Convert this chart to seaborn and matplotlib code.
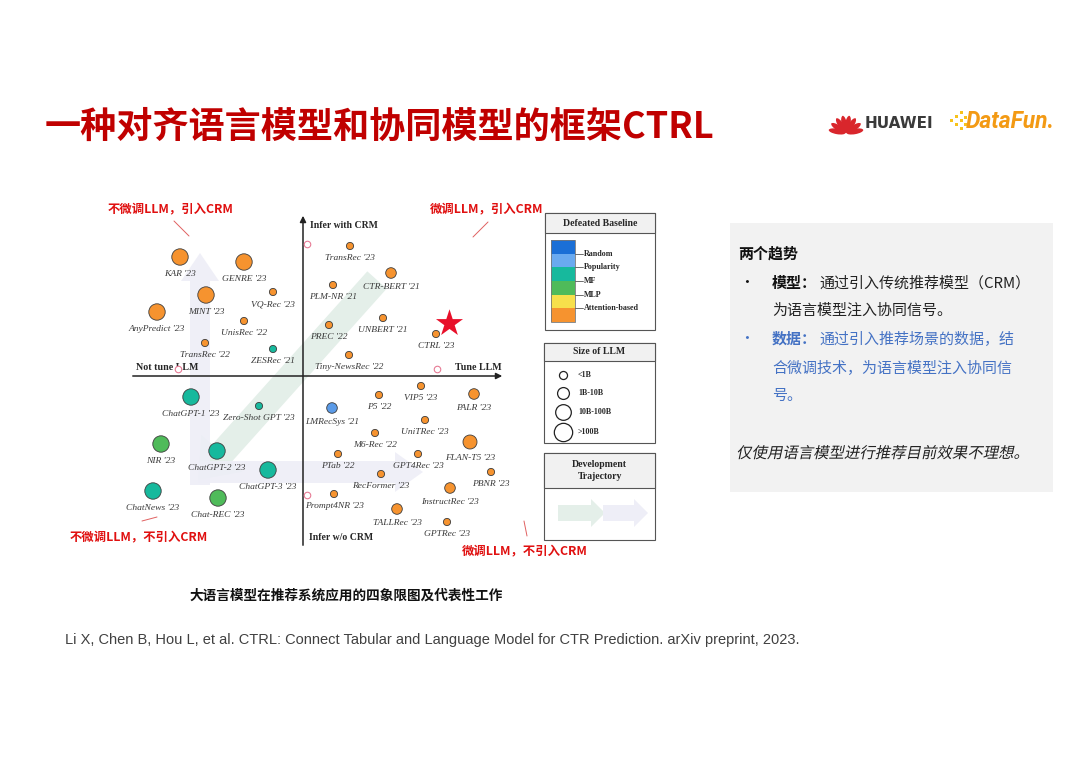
import numpy as np
import pandas as pd
import seaborn as sns
import matplotlib.pyplot as plt
from matplotlib.patches import Rectangle, FancyArrow, Ellipse, PathPatch
from matplotlib.textpath import TextPath
from matplotlib.font_manager import FontProperties
from matplotlib.transforms import Affine2D

# ---------------- 数据 ----------------
# 横轴: 是否微调 LLM (右=Tune LLM)；纵轴: 是否引入 CRM (上=Infer with CRM)
works = ["KAR '23", "GENRE '23", "VQ-Rec '23", "MINT '23", "AnyPredict '23", "UnisRec '22",
         "TransRec '22", "ZESRec '21",
         "TransRec '23", "CTR-BERT '21", "PLM-NR '21", "UNBERT '21", "PREC '22", "CTRL '23",
         "Tiny-NewsRec '22",
         "ChatGPT-1 '23", "Zero-Shot GPT '23", "NIR '23", "ChatGPT-2 '23", "ChatGPT-3 '23",
         "ChatNews '23", "Chat-REC '23",
         "VIP5 '23", "PALR '23", "P5 '22", "LMRecSys '21", "UniTRec '23", "M6-Rec '22",
         "FLAN-T5 '23", "PTab '22", "GPT4Rec '23", "PBNR '23", "RecFormer '23",
         "InstructRec '23", "Prompt4NR '23", "TALLRec '23", "GPTRec '23"]
tune_axis = [-123, -59, -30, -97, -146, -59, -98, -30,
             47, 88, 30, 80, 26, 133, 46,
             -112, -44, -142, -86, -35, -150, -85,
             118, 171, 76, 29, 122, 72, 167, 35, 115, 188, 78, 147, 31, 94, 144]
crm_axis = [119, 114, 84, 81, 64, 55, 33, 27,
            130, 103, 91, 58, 51, 42, 21,
            -21, -30, -68, -75, -94, -115, -122,
            -10, -18, -19, -32, -44, -57, -66, -78, -78, -96, -98, -112, -118, -133, -146]
llm_size = ['>100B', '>100B', '<1B', '>100B', '>100B', '<1B', '<1B', '<1B',
            '<1B', '1B-10B', '<1B', '<1B', '<1B', '<1B', '<1B',
            '>100B', '<1B', '>100B', '>100B', '>100B', '>100B', '>100B',
            '<1B', '1B-10B', '<1B', '1B-10B', '<1B', '<1B', '10B-100B', '<1B', '<1B', '<1B', '<1B',
            '1B-10B', '<1B', '1B-10B', '<1B']
baseline = ['Attention-based'] * 7 + ['MF'] + ['Attention-based'] * 7 + \
           ['MF', 'MF', 'MLP', 'MF', 'MF', 'MF', 'MLP'] + \
           ['Attention-based'] * 3 + ['Popularity'] + ['Attention-based'] * 11

star_x, star_y = [146], [53]                     # CTRL 星标
origin_x = [4, 134, -125, 4]                     # 空心小圆
origin_y = [132, 7, 7, -119]

size_levels = ['<1B', '1B-10B', '10B-100B', '>100B']
size_radius = {'<1B': 3.6, '1B-10B': 5.3, '10B-100B': 7.0, '>100B': 8.2}  # 像素半径
baseline_levels = ['Random', 'Popularity', 'MF', 'MLP', 'Attention-based']
baseline_colors = {'Random': '#1b6fd6', 'Popularity': '#5b9be8', 'MF': '#17b99d',
                   'MLP': '#4fbb5a', 'Attention-based': '#f6932f'}
stripe_colors = ['#1b6fd6', '#6aaaf0', '#17b99d', '#4fbb5a', '#f7e04b', '#f6932f']

df = pd.DataFrame({'work': works, 'tune': tune_axis, 'crm': crm_axis,
                   'llm': llm_size, 'baseline': baseline})

# ---------------- 绘图 ----------------
sns.set_theme(style='white')
plt.rcParams['font.family'] = ['Noto Sans CJK SC', 'DejaVu Sans']

fig = plt.figure(figsize=(10.8, 7.63), dpi=100)
bg = fig.add_axes([0, 0, 1, 1])
bg.set_xlim(0, 1080)
bg.set_ylim(763, 0)
bg.axis('off')

px2pt = 0.72
sizes_s = {k: (2 * r * px2pt) ** 2 for k, r in size_radius.items()}

# 标题
bg.text(45, 127, '一种对齐语言模型和协同模型的框架CTRL', fontsize=26, fontweight='heavy',
        color='#c00000', va='center', ha='left')

# logo
for th in [-80, -57, -33, -11, 11, 33, 57, 80]:
    t = np.deg2rad(th)
    bg.add_patch(Ellipse((846 + 9 * np.sin(t), 133 - 9 * np.cos(t)), 5.5, 17, angle=th,
                         color='#d9262c', lw=0))
bg.text(865, 123, 'HUAWEI', fontsize=11, fontweight='bold', color='#3a3a3a',
        family='DejaVu Sans', va='center')
for dx, dy in [(0, 0), (5, -4), (5, 4), (10, -8), (10, 0), (10, 8), (14, -3), (14, 4)]:
    bg.add_patch(Rectangle((950 + dx, 119 + dy), 2.5, 2.5, color='#f7c21b', lw=0))
bg.text(966, 121, 'DataFun.', fontsize=16.5, fontweight='bold', style='italic',
        color='#f39a14', family='Roboto', va='center')

# 主图
ax = fig.add_axes([100 / 1080, (763 - 560) / 763, 440 / 1080, 365 / 763])

# 发展轨迹背景箭头
ax.add_patch(FancyArrow(74, 96, -179, -200, width=26, head_width=56, head_length=36,
                        length_includes_head=True, color='#e4efe9', lw=0, zorder=0))
ax.add_patch(FancyArrow(-103, -109, 0, 232, width=20, head_width=38, head_length=28,
                        length_includes_head=True, color='#eeeef7', alpha=0.9, lw=0, zorder=0))
ax.add_patch(FancyArrow(-105, -96, 225, 0, width=22, head_width=40, head_length=28,
                        length_includes_head=True, color='#eeeef7', alpha=0.9, lw=0, zorder=0))

# 象限坐标轴
ax.annotate('', xy=(202, 0), xytext=(-173, 0),
            arrowprops=dict(arrowstyle='-|>', color='#222222', lw=1.1, mutation_scale=9))
ax.annotate('', xy=(0, 163), xytext=(0, -172),
            arrowprops=dict(arrowstyle='-|>', color='#222222', lw=1.1, mutation_scale=9))

serif = 'Liberation Serif'
ax.text(7, 150, 'Infer with CRM', family=serif, fontweight='bold', fontsize=7, va='center')
ax.text(6, -162, 'Infer w/o CRM', family=serif, fontweight='bold', fontsize=7, va='center')
ax.text(152, 9, 'Tune LLM', family=serif, fontweight='bold', fontsize=7.2, va='center')
ax.text(-167, 9, 'Not tune LLM', family=serif, fontweight='bold', fontsize=7.2, va='center')

sns.scatterplot(data=df, x='tune', y='crm', hue='baseline', palette=baseline_colors,
                size='llm', sizes=sizes_s, size_order=size_levels,
                edgecolor='#3c3c3c', linewidth=0.6, legend=False, ax=ax, zorder=3)
ax.set_xlim(-203, 237)
ax.set_ylim(-184, 181)
ax.axis('off')

for _, row in df.iterrows():
    off = -(size_radius[row['llm']] + 8.5) * px2pt
    ax.annotate(row['work'], (row['tune'], row['crm']), xytext=(0, off),
                textcoords='offset points', ha='center', va='center', fontsize=6.8,
                style='italic', family=serif, color='#3a3a3a')

ax.scatter(star_x, star_y, marker='*', s=420, color='#e8102a', lw=0, zorder=4)
ax.scatter(origin_x, origin_y, s=22, facecolor='white', edgecolor='#e77b95', lw=0.8, zorder=4)

# 红色注释
red = '#e01010'
notes = [(108, 210, '不微调LLM，引入CRM', (174, 221, 189, 236)),
         (430, 210, '微调LLM，引入CRM', (488, 222, 473, 237)),
         (70, 538, '不微调LLM，不引入CRM', (142, 521, 157, 517)),
         (462, 552, '微调LLM，不引入CRM', (524, 521, 527, 536))]
for x0, y0, s, (lx0, ly0, lx1, ly1) in notes:
    bg.text(x0, y0, s, fontsize=8.9, fontweight='bold', color=red, va='center', ha='left')
    bg.plot([lx0, lx1], [ly0, ly1], color='#e06060', lw=0.7)

# 图例
edge = '#555555'
def legend_box(x, y, w, h, hh, title):
    bg.add_patch(Rectangle((x, y), w, h, fc='white', ec=edge, lw=0.8))
    bg.add_patch(Rectangle((x, y), w, hh, fc='#f1f1f1', ec=edge, lw=0.8))
    bg.text(x + w / 2, y + hh / 2, title, family=serif, fontweight='bold', fontsize=7,
            ha='center', va='center', linespacing=1.3)

legend_box(545, 213, 110, 117, 20, 'Defeated Baseline')
sh = 82 / len(stripe_colors)
for i, c in enumerate(stripe_colors):
    bg.add_patch(Rectangle((551, 240 + i * sh), 24, sh, fc=c, ec='none'))
bg.add_patch(Rectangle((551, 240), 24, 82, fc='none', ec='#777777', lw=0.6))
for i, lab in enumerate(baseline_levels):
    yy = 240 + (i + 1) * sh
    bg.plot([575, 583], [yy, yy], color='#555555', lw=0.6)
    bg.text(584, yy, lab, family=serif, fontweight='bold', fontsize=5.8, va='center')

legend_box(544, 343, 111, 100, 18, 'Size of LLM')
leg_y = [375, 393, 412, 432]
for yy, lev in zip(leg_y, size_levels):
    bg.scatter([563], [yy], s=sizes_s[lev] * 1.25, facecolor='white', edgecolor='#222222', lw=0.9)
    bg.text(578, yy, lev, family=serif, fontweight='bold', fontsize=5.8, va='center')

legend_box(544, 453, 111, 87, 35, 'Development\nTrajectory')
bg.add_patch(FancyArrow(558, 513, 47, 0, width=16, head_width=28, head_length=14,
                        length_includes_head=True, color='#e4efe9', lw=0))
bg.add_patch(FancyArrow(603, 513, 45, 0, width=16, head_width=28, head_length=14,
                        length_includes_head=True, color='#eeeef7', lw=0))

# 右侧文字框
bg.add_patch(Rectangle((730, 223), 323, 269, fc='#f2f2f2', ec='none'))
fs = 10.8
blue = '#4472c4'
bg.text(738, 254, '两个趋势', fontsize=fs, fontweight='bold', color='#111111', va='center')
bg.text(739, 283, '•', fontsize=fs, color='#111111', va='center')
bg.text(772, 283, '模型：', fontsize=fs, fontweight='bold', color='#111111', va='center')
bg.text(819, 283, '通过引入传统推荐模型（CRM）', fontsize=fs, color='#222222', va='center')
bg.text(772, 311, '为语言模型注入协同信号。', fontsize=fs, color='#222222', va='center')
bg.text(739, 339, '•', fontsize=fs, color=blue, va='center')
bg.text(772, 339, '数据：', fontsize=fs, fontweight='bold', color=blue, va='center')
bg.text(819, 339, '通过引入推荐场景的数据，结', fontsize=fs, color=blue, va='center')
bg.text(772, 368, '合微调技术，为语言模型注入协同信', fontsize=fs, color=blue, va='center')
bg.text(772, 396, '号。', fontsize=fs, color=blue, va='center')

# 斜体中文（CJK 字体无斜体，用剪切变换模拟）
tp = TextPath((0, 0), '仅使用语言模型进行推荐目前效果不理想。', size=11.1 / px2pt,
              prop=FontProperties(family='Noto Sans CJK SC'))
tr = Affine2D().skew_deg(12, 0).scale(1, -1).translate(736, 458)
bg.add_patch(PathPatch(tr.transform_path(tp), fc='#222222', ec='none'))

# 图注与参考文献
bg.text(190, 596, '大语言模型在推荐系统应用的四象限图及代表性工作', fontsize=9.8,
        fontweight='bold', color='#111111', va='center')
bg.text(65, 640, 'Li X, Chen B, Hou L, et al. CTRL: Connect Tabular and Language Model for CTR '
        'Prediction. arXiv preprint, 2023.', fontsize=10.5, family='Liberation Sans',
        color='#404040', va='center')

fig.savefig('out.png', dpi=100)
